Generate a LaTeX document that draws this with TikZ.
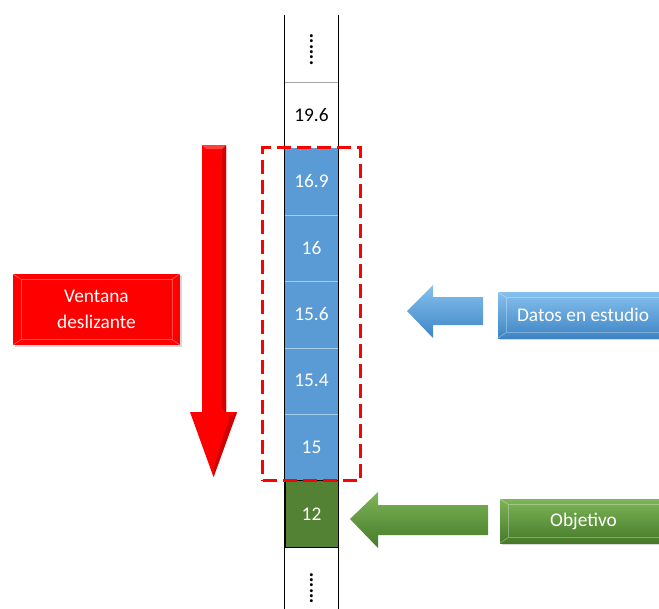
\documentclass[tikz,border=0pt]{standalone}
\usepackage{fontspec}
\setmainfont{Carlito}
\usetikzlibrary{fit,shadows}

\definecolor{celdaazul}{HTML}{5B9BD5}
\definecolor{celdaverde}{HTML}{548235}
\definecolor{rojo}{HTML}{FF0000}
\definecolor{azulclaro}{HTML}{86C1EE}
\definecolor{azuloscuro}{HTML}{3E84C4}
\definecolor{verdeclaro}{HTML}{7DB558}
\definecolor{verdeoscuro}{HTML}{467A29}
\definecolor{linea}{HTML}{A9CBEA}

\begin{document}
\begin{tikzpicture}[x=0.75pt, y=-0.75pt,
        every node/.style={font=\fontsize{14.5}{16}\selectfont},
        celda/.style={minimum width=39.75pt, minimum height=49.875pt, inner sep=0pt},
        azul/.style={celda, fill=celdaazul, text=white},
        verde/.style={celda, fill=celdaverde, draw=black, text=white},
        puntos/.style={rotate=-90, inner sep=0pt, font=\fontsize{15}{15}\selectfont\bfseries},
        etiqueta/.style={text=white, align=center, inner sep=0pt,
            drop shadow={opacity=0.3, shadow xshift=1.2pt, shadow yshift=-1.5pt},
            path picture={
                \draw[white, opacity=0.3, line width=0.6pt]
                    ([xshift=6pt,yshift=-4pt]path picture bounding box.north west) rectangle
                    ([xshift=-6pt,yshift=4pt]path picture bounding box.south east);
                \draw[white, opacity=0.3, line width=0.6pt]
                    (path picture bounding box.north west) -- ++(6pt,-4pt)
                    (path picture bounding box.north east) -- ++(-6pt,-4pt)
                    (path picture bounding box.south west) -- ++(6pt,4pt)
                    (path picture bounding box.south east) -- ++(-6pt,4pt);
            }}]
    \useasboundingbox (0,0) rectangle (659,608);

    % Columna
    \node[celda] at (311.5, 48.25) (c0) {};
    \node[celda] at (311.5, 114.75) (c1) {19.6};
    \node[celda] at (311.5, 580.25) (c8) {};
    \draw (c0.north west) -- (c8.south west);
    \draw (c0.north east) -- (c8.south east);
    \draw[gray!70] (c0.south west) -- (c0.south east);
    \node[puntos] at ([yshift=-1pt]c0.center) (p0) {......};
    \node[puntos] at ([yshift=-6pt]c8.center) (p8) {......};

    \node[azul] at (311.5, 181.25) (c2) {16.9};
    \node[azul] at (311.5, 247.75) (c3) {16};
    \node[azul] at (311.5, 314.25) (c4) {15.6};
    \node[azul] at (311.5, 380.75) (c5) {15.4};
    \node[azul] at (311.5, 447.25) (c6) {15};
    \node[verde] at (311.5, 513.75) (c7) {12};
    \foreach \i in {2,...,5}
        \draw[linea] (c\i.south west) -- (c\i.south east);

    % Ventana
    \node[fit=(c2)(c6), inner xsep=16.5pt, inner ysep=0pt, draw=rojo,
        line width=2.25pt, dash pattern=on 10.5pt off 4.5pt] (ventana) {};

    % Flecha roja
    \fill[rojo] (202,145) -- (226,145) -- (226,412) -- (237,412) -- (213.5,477)
        -- (190,412) -- (202,412) -- cycle;
    \fill[rojo!82!black] (226,145) -- (226,412) -- (222,408) -- (222,149) -- cycle;
    \fill[rojo!82!black] (237,412) -- (213.5,477) -- (213.5,468) -- (230,416) -- cycle;
    \fill[rojo!75!white] (202,145) -- (226,145) -- (222,149) -- (206,149) -- cycle;

    % Etiquetas
    \node[etiqueta, fill=rojo, minimum width=125.25pt, minimum height=53.25pt,
        font=\fontsize{14.5}{19}\selectfont] at (96.5, 309.5) (desl) {Ventana\\deslizante};
    \node[etiqueta, top color=azulclaro, bottom color=azuloscuro,
        minimum width=127.5pt, minimum height=34.5pt] at (583, 315) (datos) {Datos en estudio};
    \node[etiqueta, top color=verdeclaro, bottom color=verdeoscuro,
        minimum width=125.25pt, minimum height=33pt] at (583.5, 521) (obj) {Objetivo};

    % Flechas
    \path[top color=azulclaro, bottom color=azuloscuro]
        (407,311) -- (433,285) -- (433,297) -- (483,297) -- (483,325) -- (433,325)
        -- (433,338) -- cycle;
    \path[top color=verdeclaro, bottom color=verdeoscuro]
        (350,519) -- (378,492) -- (378,505) -- (488,505) -- (488,535) -- (378,535)
        -- (378,548) -- cycle;
\end{tikzpicture}
\end{document}
